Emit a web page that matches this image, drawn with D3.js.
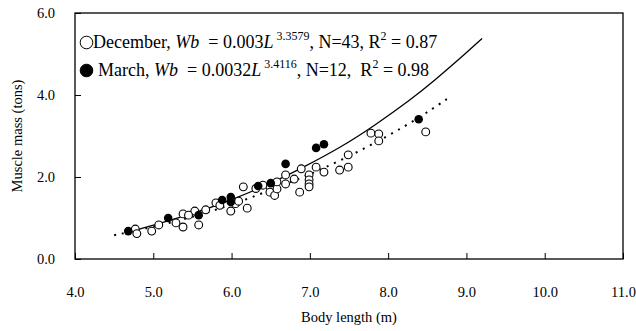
<!DOCTYPE html>
<html>
<head>
<meta charset="utf-8">
<script src="https://cdn.jsdelivr.net/npm/d3@7"></script>
<style>
  body { margin: 0; background: #fff; }
  svg text { font-family: "Liberation Serif", "Times New Roman", serif; fill: #000; }
</style>
</head>
<body>
<svg id="chart" width="636" height="331"></svg>
<script>
// December (open circles): [body length m, muscle mass t]
let decLength = [4.77, 4.79, 4.98, 5.07, 5.29, 5.38, 5.38, 5.53, 5.58, 5.67, 5.80, 5.85, 5.99, 6.05, 6.09, 6.15, 6.20, 6.31,
  6.49, 6.49, 6.55, 6.58, 6.58, 6.69, 6.69, 6.80, 6.87, 6.89, 6.99, 6.99, 6.99, 6.99, 7.08, 7.18, 7.38, 7.49, 7.49,
  7.78, 7.88, 7.88, 8.48, 5.45, 6.40]
let decMass = [0.73, 0.62, 0.68, 0.83, 0.88, 0.78, 1.10, 1.17, 0.83, 1.20, 1.37, 1.31, 1.17, 1.35, 1.41, 1.76, 1.24, 1.72,
  1.76, 1.63, 1.55, 1.71, 1.88, 2.05, 1.83, 1.95, 1.63, 2.20, 2.05, 1.93, 1.83, 1.76, 2.24, 2.12, 2.17, 2.24, 2.54,
  3.07, 3.05, 2.88, 3.10, 1.07, 1.80]

// March (filled circles)
let marLength = [4.68, 5.19, 5.58, 5.88, 5.99, 5.99, 6.34, 6.50, 6.69, 7.08, 7.18, 8.39]
let marMass = [0.68, 1.00, 1.07, 1.44, 1.51, 1.39, 1.78, 1.85, 2.32, 2.71, 2.80, 3.41]

// trend curves
let decCurve = [[4.65, 0.64], [5.0, 0.82], [5.5, 1.1], [6.0, 1.44], [6.5, 1.84], [6.9, 2.22], [7.4, 2.73],
  [7.8, 3.22], [8.3, 3.9], [8.6, 4.37], [8.9, 4.86], [9.2, 5.38]]
let marCurve = [[4.5, 0.58], [5.0, 0.78], [5.5, 1.02], [6.0, 1.32], [6.5, 1.68], [7.0, 2.06], [7.5, 2.5],
  [8.0, 3.0], [8.4, 3.45], [8.75, 3.9]]

let xTicks = [4, 5, 6, 7, 8, 9, 10, 11]
let yTicks = [0, 2, 4, 6]

let margin = { top: 13, right: 13, bottom: 72, left: 75 }
let width = 636
let height = 331

let svg = d3.select("#chart")

let x = d3.scaleLinear().domain([4, 11]).range([margin.left, width - margin.right])
let y = d3.scaleLinear().domain([0, 6]).range([height - margin.bottom, margin.top])

// frame
svg.append("rect")
  .attr("x", margin.left)
  .attr("y", margin.top)
  .attr("width", width - margin.left - margin.right)
  .attr("height", height - margin.top - margin.bottom)
  .attr("fill", "none")
  .attr("stroke", "#000")
  .attr("stroke-width", 1.3)

// axes with inward ticks
let xAxis = svg.append("g")
  .attr("transform", `translate(0,${height - margin.bottom})`)
  .call(d3.axisBottom(x).tickValues(xTicks).tickFormat(d3.format(".1f")).tickSizeInner(-6).tickSizeOuter(0).tickPadding(28))
xAxis.select(".domain").remove()
xAxis.selectAll("text").style("font-size", "14.5px").style("font-family", "Liberation Serif")

let yAxis = svg.append("g")
  .attr("transform", `translate(${margin.left},0)`)
  .call(d3.axisLeft(y).tickValues(yTicks).tickFormat(d3.format(".1f")).tickSizeInner(-6).tickSizeOuter(0).tickPadding(20))
yAxis.select(".domain").remove()
yAxis.selectAll("text").style("font-size", "14.5px").style("font-family", "Liberation Serif")

// axis titles
svg.append("text")
  .attr("x", (margin.left + width - margin.right) / 2)
  .attr("y", 322)
  .attr("text-anchor", "middle")
  .style("font-size", "14.5px")
  .text("Body length (m)")

svg.append("text")
  .attr("transform", `translate(22,${(margin.top + height - margin.bottom) / 2}) rotate(-90)`)
  .attr("text-anchor", "middle")
  .style("font-size", "14.5px")
  .text("Muscle mass (tons)")

// trend lines
let line = d3.line()
  .x(d => x(d[0]))
  .y(d => y(d[1]))
  .curve(d3.curveBasis)

svg.append("path")
  .attr("d", line(decCurve))
  .attr("fill", "none")
  .attr("stroke", "#000")
  .attr("stroke-width", 1.3)

svg.append("path")
  .attr("d", line(marCurve))
  .attr("fill", "none")
  .attr("stroke", "#000")
  .attr("stroke-width", 2)
  .attr("stroke-dasharray", "2,6")

// points
svg.append("g")
  .selectAll("circle")
  .data(decLength.map((d, i) => [d, decMass[i]]))
  .join("circle")
  .attr("cx", d => x(d[0]))
  .attr("cy", d => y(d[1]))
  .attr("r", 3.9)
  .attr("fill", "#fff")
  .attr("stroke", "#000")
  .attr("stroke-width", 1.1)

svg.append("g")
  .selectAll("circle")
  .data(marLength.map((d, i) => [d, marMass[i]]))
  .join("circle")
  .attr("cx", d => x(d[0]))
  .attr("cy", d => y(d[1]))
  .attr("r", 4.3)
  .attr("fill", "#000")

// legend
let legend = svg.append("g").style("font-size", "18px")
let sp = "\u00a0"

function legendLine(yPos, filled, parts) {
  legend.append("circle")
    .attr("cx", 86.5)
    .attr("cy", yPos - 5.5)
    .attr("r", 6.3)
    .attr("fill", filled ? "#000" : "#fff")
    .attr("stroke", "#000")
    .attr("stroke-width", 1)
  let t = legend.append("text").attr("x", filled ? 98 : 93).attr("y", yPos)
  parts.forEach(p => {
    let ts = t.append("tspan").text(p.s)
    if (p.i) ts.style("font-style", "italic")
    if (p.sup) ts.attr("dy", -8).style("font-size", "12px")
    if (p.down) ts.attr("dy", 8)
  })
}

legendLine(48, false, [
  { s: "December, " }, { s: "Wb", i: true }, { s: sp + sp + "=" + sp + "0.003" }, { s: "L", i: true },
  { s: sp + "3.3579", sup: true }, { s: ", N=43, R", down: true }, { s: "2", sup: true }, { s: sp + "=" + sp + "0.87", down: true }
])
legendLine(76, true, [
  { s: "March, " }, { s: "Wb", i: true }, { s: sp + sp + "=" + sp + "0.0032" }, { s: "L", i: true },
  { s: sp + "3.4116", sup: true }, { s: ", N=12," + sp + sp + "R", down: true }, { s: "2", sup: true }, { s: sp + "=" + sp + "0.98", down: true }
])
</script>
</body>
</html>
